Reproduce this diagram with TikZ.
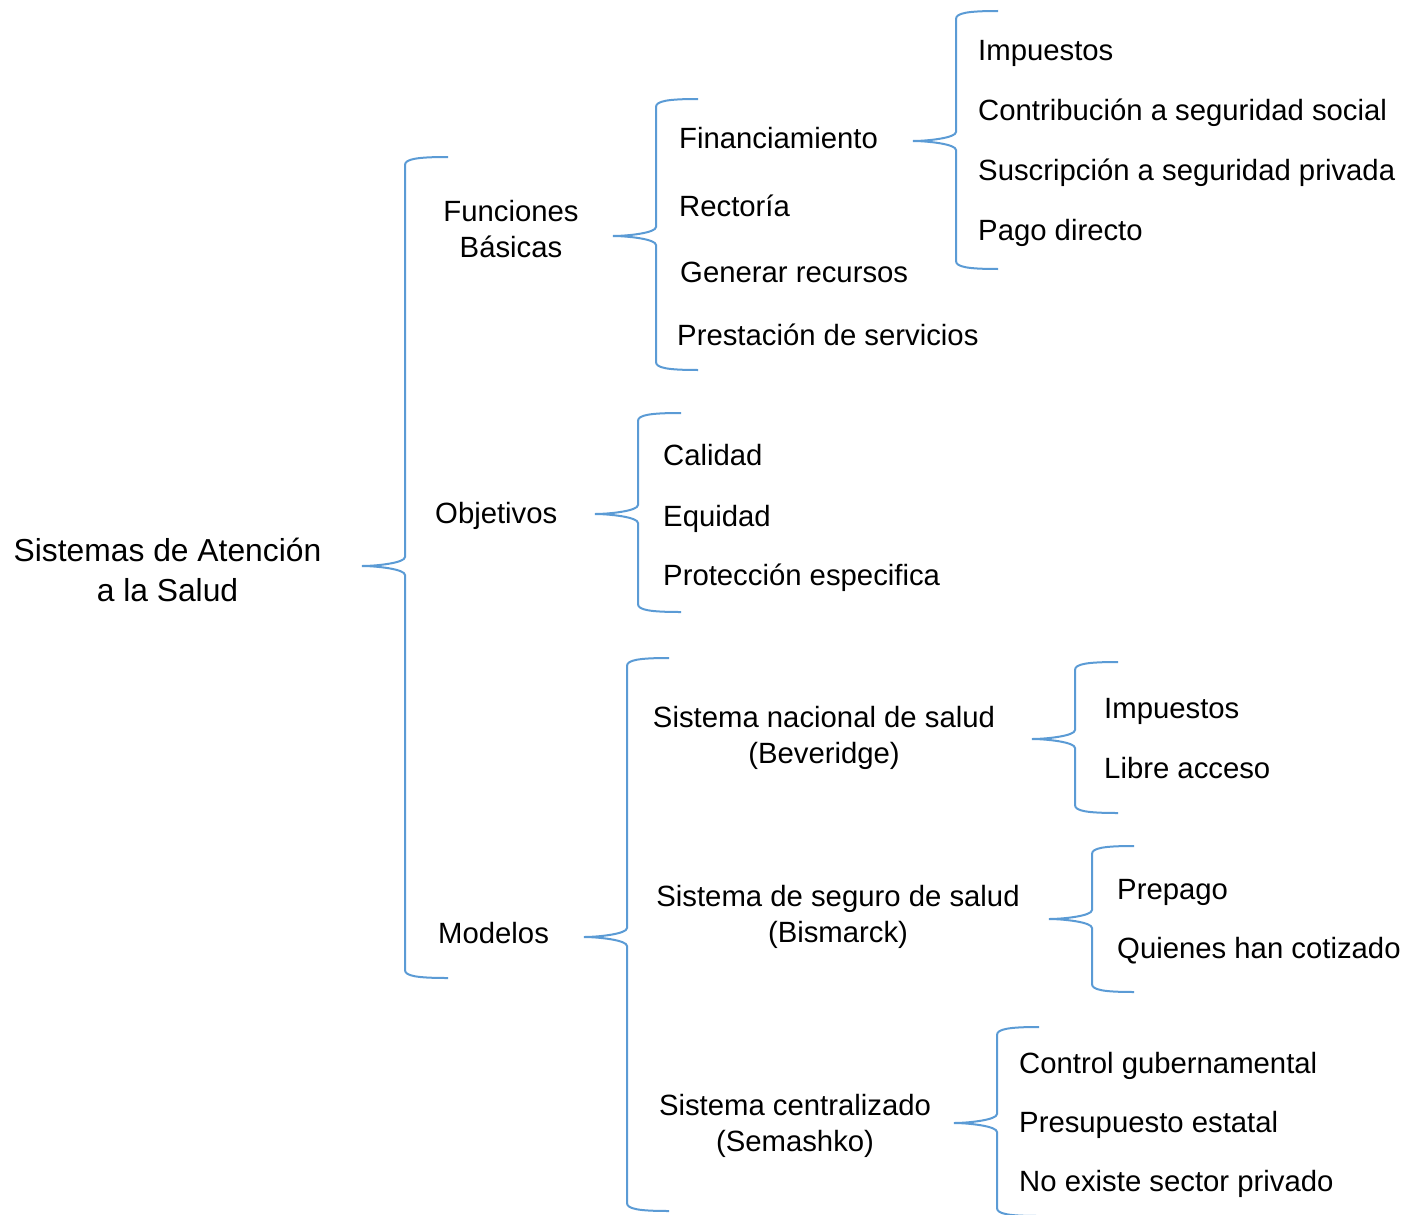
\documentclass[tikz,border=0pt]{standalone}
\usepackage{fontspec}
\setmainfont{Liberation Sans}
\definecolor{bracecol}{RGB}{91,155,213}
\newcommand\brc[6]{% end, line, tip, top, tipy, bot
  \draw[bracecol,line width=2pt]
    (#1,#4) .. controls (#2+12,#4) and (#2,#4+2) .. (#2,#4+8)
    -- (#2,#5-9) .. controls (#2,#5-3) and (#3+14,#5) .. (#3,#5)
    .. controls (#3+14,#5) and (#2,#5+3) .. (#2,#5+9)
    -- (#2,#6-8) .. controls (#2,#6-2) and (#2+12,#6) .. (#1,#6);}
\tikzset{
  lbl/.style={anchor=base west,inner sep=0pt,font=\fontsize{29.3}{37}\selectfont},
  mlbl/.style={anchor=center,inner sep=0pt,align=center,font=\fontsize{29.3}{36}\selectfont},
  big/.style={anchor=center,inner sep=0pt,align=center,font=\fontsize{31.8}{40}\selectfont}
}
\begin{document}
\begin{tikzpicture}[x=1pt,y=-1pt]
\useasboundingbox (0,0) rectangle (1403,1215);
% braces
\brc{448}{405}{362}{157}{566}{978}
\brc{698}{656}{613}{99}{236}{370}
\brc{998}{956}{913}{11}{141}{269}
\brc{681}{638}{595}{413}{514}{612}
\brc{669}{627}{584}{658}{937}{1211}
\brc{1118}{1075}{1032}{662}{739}{813}
\brc{1134}{1092}{1049}{846}{919}{992}
\brc{1039}{997}{954}{1027}{1123}{1216}
% root
\node[big] (root) at (167.5,570) {Sistemas de Atención\\a la Salud};
% level 1
\node[mlbl] (fb) at (511,229) {Funciones\\Básicas};
\node[lbl] (obj) at (435,523) {Objetivos};
\node[lbl] (mod) at (438,943) {Modelos};
% funciones
\node[lbl] (fin) at (679,148) {Financiamiento};
\node[lbl] (rec) at (679,216) {Rectoría};
\node[lbl] (gen) at (680,282) {Generar recursos};
\node[lbl] (pre) at (677,345) {Prestación de servicios};
% financiamiento
\node[lbl] (imp1) at (978,60) {Impuestos};
\node[lbl] (con) at (978,120) {Contribución a seguridad social};
\node[lbl] (sus) at (978,180) {Suscripción a seguridad privada};
\node[lbl] (pag) at (978,240) {Pago directo};
% objetivos
\node[lbl] (cal) at (663,465) {Calidad};
\node[lbl] (equ) at (663,526) {Equidad};
\node[lbl] (pro) at (663,585) {Protección especifica};
% modelos
\node[mlbl] (bev) at (824,738) {Sistema nacional de salud\\(Beveridge)};
\node[mlbl] (bis) at (838,917) {Sistema de seguro de salud\\(Bismarck)};
\node[mlbl] (sem) at (795,1126) {Sistema centralizado\\(Semashko)};
\node[lbl] (imp2) at (1104,718) {Impuestos};
\node[lbl] (lib) at (1104,778) {Libre acceso};
\node[lbl] (prep) at (1117,899) {Prepago};
\node[lbl] (qui) at (1117,958) {Quienes han cotizado};
\node[lbl] (ctl) at (1019,1073) {Control gubernamental};
\node[lbl] (pres) at (1019,1132) {Presupuesto estatal};
\node[lbl] (nox) at (1019,1191) {No existe sector privado};
\end{tikzpicture}
\end{document}
